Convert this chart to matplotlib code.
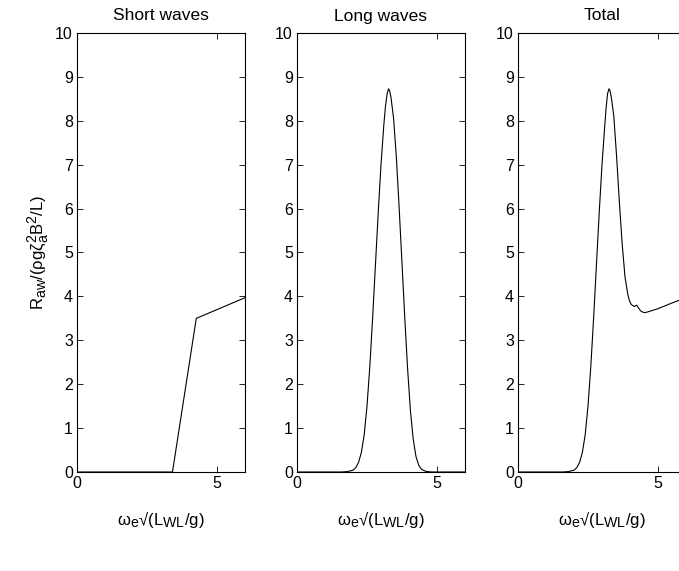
import matplotlib
matplotlib.use("Agg")
import matplotlib.pyplot as plt
import matplotlib._mathtext as _mathtext

plt.rcParams["font.family"] = ["Liberation Sans", "DejaVu Sans"]
plt.rcParams["mathtext.fontset"] = "custom"
plt.rcParams["mathtext.rm"] = "Liberation Sans"
plt.rcParams["mathtext.it"] = "Liberation Sans"
plt.rcParams["mathtext.bf"] = "Liberation Sans:bold"
# larger sub/superscripts in the axis labels
_mathtext.SHRINK_FACTOR = 0.85

# Added resistance components vs. non-dimensional encounter frequency
short_x = [0.0, 3.41, 4.26, 6.0]
short_y = [0.0, 0.0, 3.5, 3.97]

long_x = [0.0, 1.6, 1.8, 2.0, 2.1, 2.2, 2.3, 2.4, 2.5, 2.6, 2.7, 2.8, 2.9,
          3.0, 3.1, 3.16, 3.22, 3.27, 3.31, 3.36, 3.45, 3.55, 3.65, 3.75,
          3.85, 3.95, 4.05, 4.15, 4.25, 4.35, 4.45, 4.6, 4.8, 6.0]
long_y = [0.0, 0.0, 0.01, 0.04, 0.1, 0.22, 0.45, 0.85, 1.5, 2.4, 3.5, 4.7,
          5.9, 7.0, 7.9, 8.33, 8.62, 8.73, 8.68, 8.52, 8.05, 7.15, 6.0, 4.75,
          3.5, 2.35, 1.4, 0.75, 0.35, 0.15, 0.06, 0.015, 0.0, 0.0]

total_x = [0.0, 1.6, 1.8, 2.0, 2.1, 2.2, 2.3, 2.4, 2.5, 2.6, 2.7, 2.8, 2.9,
           3.0, 3.1, 3.15, 3.2, 3.25, 3.29, 3.34, 3.42, 3.52, 3.62, 3.72,
           3.82, 3.92, 3.98, 4.04, 4.1, 4.16, 4.2, 4.24, 4.3, 4.38, 4.46,
           4.54, 4.7, 5.0, 5.5, 6.0]
total_y = [0.0, 0.0, 0.01, 0.04, 0.1, 0.22, 0.45, 0.85, 1.5, 2.4, 3.5, 4.7,
           5.9, 7.0, 7.9, 8.32, 8.62, 8.73, 8.68, 8.5, 8.12, 7.2, 6.15, 5.2,
           4.45, 4.05, 3.9, 3.82, 3.79, 3.77, 3.79, 3.8, 3.74, 3.67, 3.64,
           3.63, 3.66, 3.72, 3.85, 3.97]

titles = ["Short waves", "Long waves", "Total"]
xticks = [0, 5]
yticks = list(range(0, 11))
xlabel = r"$\mathregular{ω_e√(L_{WL}/g)}$"
ylabel = r"$\mathregular{R_{aw}/(ρgζ_a^2B^2/L)}$"

W, H = 679, 571
fig = plt.figure(figsize=(W / 100, H / 100), dpi=100)

lefts = [77, 297, 518]
ax_w, top, bottom = 168, 33, 472
series = [(short_x, short_y), (long_x, long_y), (total_x, total_y)]

for i, (l, (xs, ys), t) in enumerate(zip(lefts, series, titles)):
    ax = fig.add_axes([l / W, (H - bottom) / H, ax_w / W, (bottom - top) / H])
    ax.plot(xs, ys, color="black", lw=0.8)
    ax.set_xlim(0, 6)
    ax.set_ylim(0, 10)
    ax.set_xticks(xticks)
    ax.set_yticks(yticks)
    ax.tick_params(direction="in", top=True, right=True, length=4,
                   width=0.6, labelsize=11.5, pad=3)
    for s in ax.spines.values():
        s.set_linewidth(0.8)
    ax.set_title(t, fontsize=12.5, pad=9)
    ax.set_xlabel(xlabel, fontsize=12, labelpad=13)
    if i == 0:
        ax.set_ylabel(ylabel, fontsize=12, labelpad=4)

fig.savefig("out.png", dpi=100)
